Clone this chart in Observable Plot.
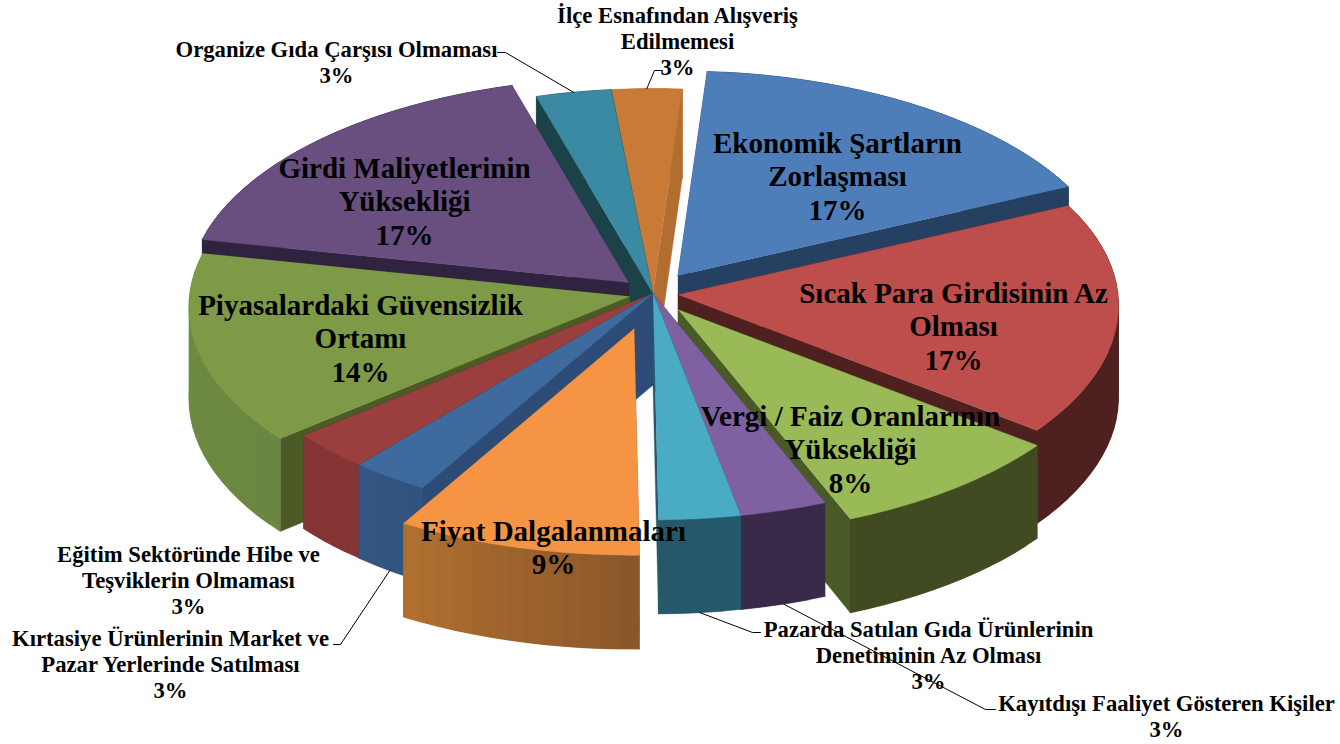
<!DOCTYPE html>
<html><head><meta charset="utf-8">
<script src="https://cdn.jsdelivr.net/npm/d3@7"></script>
<script src="https://cdn.jsdelivr.net/npm/@observablehq/plot@0.6"></script>
<style>html,body{margin:0;padding:0;background:#fff}svg{display:block}</style>
</head><body><div id="chart"></div>
<script>
// ---- data ----
const categories = ["Ekonomik Şartların\nZorlaşması","Sıcak Para Girdisinin Az\nOlması","Vergi / Faiz Oranlarının\nYüksekliği","Kayıtdışı Faaliyet Gösteren Kişiler","Pazarda Satılan Gıda Ürünlerinin\nDenetiminin Az Olması","Fiyat Dalgalanmaları","Kırtasiye Ürünlerinin Market ve\nPazar Yerlerinde Satılması","Eğitim Sektöründe Hibe ve\nTeşviklerin Olmaması","Piyasalardaki Güvensizlik\nOrtamı","Girdi Maliyetlerinin\nYüksekliği","Organize Gıda Çarşısı Olmaması","İlçe Esnafından Alışveriş\nEdilmemesi"];
const shares = [16.95,17.45,8.45,3.05,2.85,8.55,2.75,2.85,14.3,17.3,2.9,2.7];
const explode = [0.1,0.057,0.095,0,0,0.17,0,0,0.055,0.075,0,0];

// ---- styles ----
const topColors = ["#4E7EB9","#BE4E4B","#9ABA58","#7F61A1","#4AABC5","#F59443","#3E6A9E","#9A3F3D","#7E9A47","#684F80","#3A8AA3","#C87A36"];
const radialColors = ["#254061","#4E2120","#4A5A27","#3A2A4A","#25596A","#8A562A","#2C4C77","#6F2C2B","#4C5A26","#30233F","#1A4248","#B26E30"];
const wallRight = ["#254061","#4E2120","#404B21","#3A2A4A","#25596A","#8A562A","#30527E","#843433","#6B8640","#30233F","#1A4248","#B26E30"];
const wallLeft  = ["#254061","#4E2120","#404B21","#3A2A4A","#25596A","#B0702F","#345782","#843433","#6F8C42","#30233F","#1A4248","#B26E30"];

// ---- layout ----
const paintOrder = [11,10,0,9,1,8,2,7,6,3,4,5];
const cx = 652.5, cy = 293, Rx = 440, Ry = 215, persp = 0.05, startDeg = 4;
const bigLabel = [
  {i:0,x:837,y:175},{i:1,x:953,y:325},{i:2,x:850,y:448},
  {i:5,x:553,y:546},{i:8,x:360,y:337},{i:9,x:404,y:200}];
const smallLabel = [
  {i:10,x:336,y:61,to:[[497,52],[505,52]],top:true},
  {i:11,x:677,y:40,to:[[662,70],[654,70]],top:true},
  {i:7,x:188,y:579},
  {i:6,x:170,y:663,to:[[333,644],[340,644]]},
  {i:4,x:928,y:654,to:[[760,632],[752,632]]},
  {i:3,x:1166,y:715,to:[[995,709],[985,709]]}];

// ---- geometry from the shares ----
const total = d3.sum(shares);
const rad = d => d * Math.PI / 180;
let acc = startDeg;
const slices = shares.map((v, i) => {
  const a0 = acc; acc += v / total * 360;
  const a1 = acc, m = rad((a0 + a1) / 2);
  return {i, a0, a1, ox: cx + explode[i] * Rx * Math.sin(m), oy: cy - explode[i] * Ry * Math.cos(m)};
});
function rim(s, deg) {
  const t = rad(deg), c = Math.cos(t), w = 1 + persp * c;
  return {x: s.ox + Rx * Math.sin(t) / w, y: s.oy - Ry * c / w, h: 91.5 - 2.5 * c};
}
const polys = [];
let pid = 0;
function poly(pts, color) {
  const id = pid++;
  pts.forEach(p => polys.push({id, x: p.x, y: p.y, color}));
}
paintOrder.forEach(k => {
  const s = slices[k], n = Math.ceil((s.a1 - s.a0) / 2.5);
  const H = 91.5, o = {x: s.ox, y: s.oy};
  const oB = {x: s.ox, y: s.oy + H};
  const low = p => ({x: p.x, y: p.y + p.h});
  const p0 = rim(s, s.a0), p1 = rim(s, s.a1);
  const at = j => rim(s, s.a0 + (s.a1 - s.a0) * Math.min(j, n) / n);
  poly([o, p0, low(p0), oB], radialColors[k]);
  poly([o, p1, low(p1), oB], radialColors[k]);
  const mix = d3.interpolateRgb(wallRight[k], wallLeft[k]);
  // each wall band runs under the next one, so that no seam shows
  for (let j = 0; j < n; j++) {
    const band = d3.range(j, Math.min(j + 2, n) + 1).map(at);
    poly([...band, ...band.map(low).reverse()], d3.rgb(mix((j + .5) / n)).formatHex());
  }
  poly([o, ...d3.range(n * 2 + 1).map(j => at(j / 2))], topColors[k]);
});

// leaders start on the slice's rim
const leaders = [];
smallLabel.filter(d => d.to).forEach((d, n) => {
  const s = slices[d.i], r = rim(s, (s.a0 + s.a1) / 2);
  d.to.forEach(p => leaders.push({n, x: p[0], y: p[1]}));
  leaders.push({n, x: r.x, y: d.top ? r.y : r.y + r.h});
});

const text = d => categories[d.i] + "\n" + Math.round(shares[d.i]) + "%";
const font = "'Liberation Serif', serif";
const plot = Plot.plot({
  width: 1340, height: 744, margin: 0,
  x: {domain: [0, 1340], range: [0, 1340], axis: null},
  y: {domain: [0, 744], range: [0, 744], axis: null},
  color: {type: "identity"},
  marks: [
    Plot.line(polys, {x: "x", y: "y", z: "id", fill: "color", stroke: "color", strokeWidth: 0.4}),
    Plot.line(leaders, {x: "x", y: "y", z: "n", stroke: "#000", strokeWidth: 1}),
    Plot.text(bigLabel, {x: "x", y: "y", text, fontFamily: font, fontWeight: "bold", fontSize: 29, lineHeight: 1.15, fill: "#000"}),
    Plot.text(smallLabel, {x: "x", y: "y", text, fontFamily: font, fontWeight: "bold", fontSize: 22.7, lineHeight: 1.16, fill: "#000"})
  ]
});
document.getElementById("chart").append(plot);
</script></body></html>
